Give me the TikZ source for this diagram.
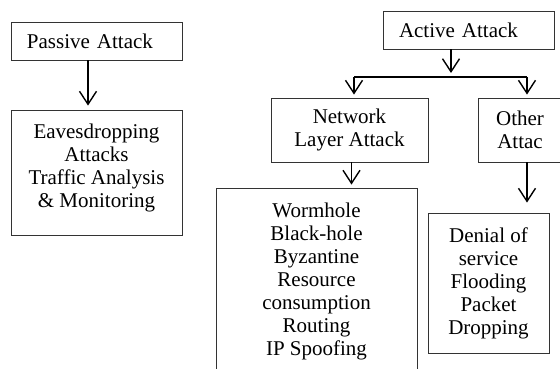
\documentclass[tikz,border=0pt]{standalone}
\usepackage{fontspec}
\setmainfont{Liberation Serif}
\usetikzlibrary{arrows.meta}

\begin{document}
\begin{tikzpicture}[x=1pt,y=-1pt,
  every node/.style={font=\rmfamily\fontsize{21}{23}\selectfont},
  box/.style={draw=black!80,line width=0.9pt,align=center,inner sep=0pt},
  arr/.style={-{Straight Barb[length=13pt,width=17pt,line width=1.4pt]},line width=1.4pt}]
\useasboundingbox (0,0) rectangle (560,369);
\clip (0,0) rectangle (560,369);
% passive side
\node[box,text width=139pt,inner xsep=16pt,align=left,minimum height=38pt] (passive) at (96.5,41) {Passive Attack};
\node[box,minimum width=171pt,minimum height=125pt] (eaves) at (96.5,172.5) {Eavesdropping\\Attacks\\Traffic Analysis\\\& Monitoring\\[-10pt]};
\coordinate (p1) at ([xshift=-8.5pt]passive.south);
\draw[arr,shorten >=4pt] (p1) -- (p1 |- eaves.north);
% active side
\node[box,text width=139pt,inner xsep=16pt,align=left,minimum height=38pt] (active) at (468.5,30) {Active Attack};
\node[box,minimum width=157pt,minimum height=64pt] (net) at (349.5,130) {Network\\Layer Attack};
\node[box,minimum width=84pt,minimum height=64pt] (other) at (520,130) {Other\\Attac};
\node[box,minimum width=201pt,minimum height=186pt] (worm) at (316.5,281) {Wormhole\\Black-hole\\Byzantine\\Resource\\consumption\\Routing\\IP Spoofing};
\node[box,minimum width=121pt,minimum height=140pt] (denial) at (488.5,283) {Denial of\\service\\Flooding\\Packet\\Dropping};
\coordinate (split) at (451,77);
\coordinate (bl) at (354,77);
\coordinate (br) at (527,77);
\draw[arr,shorten >=4pt] (active.south -| split) -- (split);
\draw[line width=1.4pt] (bl) -- (br);
\draw[arr,shorten >=3pt] (bl) -- (bl |- net.north);
\draw[arr,shorten >=3pt] (br) -- (br |- other.north);
\coordinate (n1) at ([xshift=2pt]net.south);
\draw[arr,shorten >=3pt] (n1) -- (n1 |- worm.north);
\draw[arr,shorten >=10pt] (other.south -| br) -- (br |- denial.north);
\end{tikzpicture}
\end{document}
